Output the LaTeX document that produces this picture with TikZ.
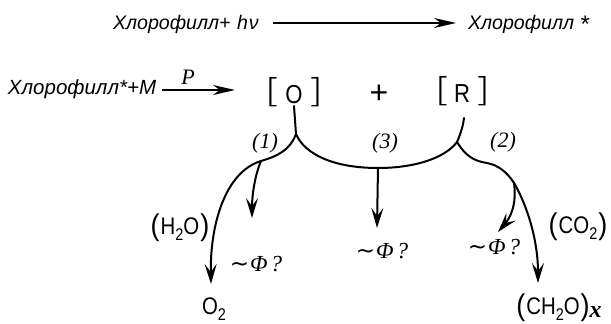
\documentclass[tikz,border=0pt]{standalone}
\usepackage{fontspec}
\usepackage{graphicx}
\usetikzlibrary{arrows.meta}
\setmainfont{Liberation Sans}
\newfontfamily\serifit[ItalicFont={Liberation Serif Italic},BoldItalicFont={Liberation Serif Bold Italic}]{Liberation Serif}
\newfontfamily\djv{DejaVu Sans}
\newfontfamily\brkfont{DejaVu Sans ExtraLight}
\newcommand{\nar}[1]{\scalebox{0.85}[1]{#1}}
\newcommand{\lp}{\raisebox{-1.5pt}{\fontsize{30}{30}\selectfont\scalebox{0.9}[1]{(}}\kern1pt}
\newcommand{\rp}{\kern1pt\raisebox{-1.5pt}{\fontsize{30}{30}\selectfont\scalebox{0.9}[1]{)}}}
\newcommand{\sub}[1]{\raisebox{-6pt}{\fontsize{17}{17}\selectfont\nar{#1}}}
\newcommand{\phq}{{\djv\char"223C}\kern1pt{\serifit\itshape Φ\kern3pt?}}
\newcommand{\brkl}{\scalebox{1.3}[1]{\brkfont [}}
\newcommand{\brkr}{\scalebox{1.3}[1]{\brkfont ]}}
\tikzset{
  x=1pt,y=-1pt,
  txt/.style={inner sep=0pt,outer sep=0pt,font=\itshape\fontsize{19.6}{20}\selectfont},
  txtb/.style={inner sep=0pt,outer sep=0pt,font=\itshape\fontsize{20.5}{21}\selectfont},
  num/.style={inner sep=0pt,font=\serifit\itshape\fontsize{22}{22}\selectfont},
  chem/.style={inner sep=0pt,font=\fontsize{24}{24}\selectfont},
  brk/.style={inner sep=0pt,font=\fontsize{33}{33}\selectfont},
  phi/.style={inner sep=0pt,font=\fontsize{23}{23}\selectfont},
  flow/.style={line width=2pt,line cap=round},
  arr/.style={-{Stealth[length=20pt,width=12pt,inset=8pt]}},
  thinarr/.style={line width=1.5pt,-{Stealth[length=22pt,width=10pt,inset=7pt]}}
}
\begin{document}
\begin{tikzpicture}
\useasboundingbox (0,0) rectangle (611,324);
\node[txt,anchor=west] (a1) at (113,24) {Хлорофилл+ \kern1pt h\kern1ptν};
\node[txt,anchor=west] (a2) at (468,24) {Хлорофилл \raisebox{-3pt}{\fontsize{24}{24}\selectfont *}};
\coordinate (a1e) at (273,23);
\coordinate (a2e) at (456,23);
\draw[thinarr] (a1e) -- (a2e);
\node[txtb,anchor=west] (b1) at (8,89) {Хлорофилл*+M};
\node[num,font=\serifit\itshape\fontsize{22}{22}\selectfont] (p) at (188,77) {P};
\coordinate (b1e) at (162,90);
\coordinate (b2e) at (235,90);
\draw[thinarr] (b1e) -- (b2e);
\node[chem,font=\fontsize{26}{26}\selectfont] (O) at (294,95) {\nar{O}};
\node[chem,font=\fontsize{26}{26}\selectfont] (R) at (462,94) {\nar{R}};
\node[brk] (ol) at (273,92) {\brkl};
\node[brk] (or) at (315,92) {\brkr};
\node[brk] (rl) at (443,91) {\brkl};
\node[brk] (rr) at (482,91) {\brkr};
\node[inner sep=0pt,font=\fontsize{32}{32}\selectfont] (plus) at (379,94) {+};
\node[num] (n1) at (265,143) {(1)};
\node[num] (n3) at (385,143) {(3)};
\node[num] (n2) at (503,142) {(2)};
\coordinate (sO) at (294,106);
\coordinate (sR) at (464,118);
\coordinate (jO) at (296,134);
\coordinate (jR) at (457,142);
\coordinate (jM) at (378,168);
\coordinate (jL) at (261,161);
\coordinate (jE) at (514,183);
\coordinate (tO) at (211,284);
\coordinate (tL) at (252,218);
\coordinate (tM) at (377,228);
\coordinate (tE) at (498,232);
\coordinate (tC) at (538,283);
\draw[flow] (sO) -- (jO);
\draw[flow] (sR) .. controls (463,127) and (460,135) .. (jR);
\draw[flow] (jO) .. controls (290,150) and (278,156) .. (jL);
\draw[flow,arr] (jL) .. controls (225,172) and (210,225) .. (tO);
\draw[flow,arr] (jL) .. controls (255,175) and (252,195) .. (tL);
\draw[flow] (jO) .. controls (305,155) and (335,168) .. (jM);
\draw[flow] (jR) .. controls (445,158) and (415,168) .. (jM);
\draw[flow,arr] (jM) -- (tM);
\draw[flow] (jR) .. controls (465,155) and (473,161) .. (487,163) .. controls (498,165) and (507,172) .. (jE);
\draw[flow,arr] (jE) .. controls (527,205) and (538,240) .. (tC);
\draw[flow,arr] (jE) .. controls (517,205) and (510,218) .. (tE);
\node[phi] (f1) at (256,264) {\phq};
\node[phi] (f2) at (382,251) {\phq};
\node[phi] (f3) at (494,247) {\phq};
\node[chem] (h2o) at (180,228) {\lp\nar{H}\sub{2}\nar{O}\rp};
\node[chem] (co2) at (578,227) {\lp\nar{CO}\sub{2}\rp};
\node[chem] (o2) at (214,309) {\nar{O}\sub{2}};
\node[chem] (ch2o) at (559,308) {\lp\nar{CH}\sub{2}\nar{O}\rp\raisebox{-3pt}{\fontsize{24}{24}\selectfont\serifit\textbf{\textit{x}}}};
\end{tikzpicture}
\end{document}
